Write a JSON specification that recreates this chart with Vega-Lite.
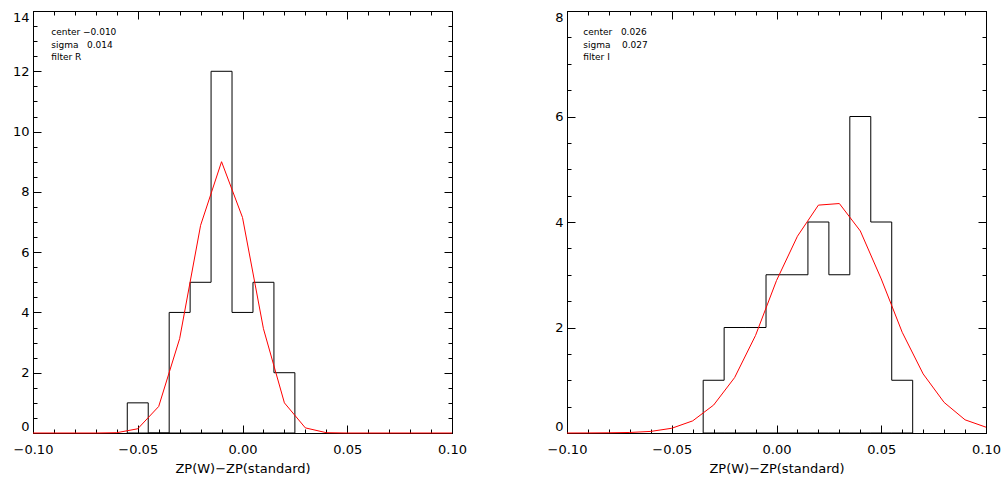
{
  "$schema": "https://vega.github.io/schema/vega-lite/v6.json",
  "background": "white",
  "padding": {"left": 11, "top": 10, "right": 5, "bottom": 5},
  "spacing": 115,
  "bounds": "flush",
  "datasets": {
    "histR": [
      {"edge": -0.055, "count": 1}, {"edge": -0.045, "count": 0}, {"edge": -0.035, "count": 4},
      {"edge": -0.025, "count": 5}, {"edge": -0.015, "count": 12}, {"edge": -0.005, "count": 4},
      {"edge": 0.005, "count": 5}, {"edge": 0.015, "count": 2}, {"edge": 0.025, "count": 0}
    ],
    "histI": [
      {"edge": -0.035, "count": 1}, {"edge": -0.025, "count": 2}, {"edge": -0.015, "count": 2},
      {"edge": -0.005, "count": 3}, {"edge": 0.005, "count": 3}, {"edge": 0.015, "count": 4},
      {"edge": 0.025, "count": 3}, {"edge": 0.035, "count": 6}, {"edge": 0.045, "count": 4},
      {"edge": 0.055, "count": 1}, {"edge": 0.065, "count": 0}
    ],
    "fitR": [
      {"x": -0.10, "y": 0}, {"x": -0.09, "y": 0}, {"x": -0.08, "y": 0}, {"x": -0.07, "y": 0},
      {"x": -0.06, "y": 0.01}, {"x": -0.05, "y": 0.14}, {"x": -0.04, "y": 0.88}, {"x": -0.03, "y": 3.13},
      {"x": -0.02, "y": 6.89}, {"x": -0.01, "y": 9.0}, {"x": 0.0, "y": 7.15}, {"x": 0.01, "y": 3.46},
      {"x": 0.02, "y": 1.0}, {"x": 0.03, "y": 0.17}, {"x": 0.04, "y": 0.01}, {"x": 0.05, "y": 0},
      {"x": 0.06, "y": 0}, {"x": 0.07, "y": 0}, {"x": 0.08, "y": 0}, {"x": 0.09, "y": 0}, {"x": 0.10, "y": 0}
    ],
    "fitI": [
      {"x": -0.10, "y": 0.0}, {"x": -0.09, "y": 0.001}, {"x": -0.08, "y": 0.004}, {"x": -0.07, "y": 0.01},
      {"x": -0.06, "y": 0.03}, {"x": -0.05, "y": 0.09}, {"x": -0.04, "y": 0.23}, {"x": -0.03, "y": 0.53},
      {"x": -0.02, "y": 1.05}, {"x": -0.01, "y": 1.85}, {"x": 0.0, "y": 2.89}, {"x": 0.01, "y": 3.73},
      {"x": 0.02, "y": 4.32}, {"x": 0.03, "y": 4.35}, {"x": 0.04, "y": 3.83}, {"x": 0.05, "y": 2.92},
      {"x": 0.06, "y": 1.91}, {"x": 0.07, "y": 1.12}, {"x": 0.08, "y": 0.58}, {"x": 0.09, "y": 0.25},
      {"x": 0.10, "y": 0.11}
    ]
  },
  "hconcat": [
    {
      "width": 419,
      "height": 422,
      "layer": [
        {
          "data": {"name": "histR"},
          "mark": {"type": "area", "interpolate": "step-after", "fillOpacity": 0, "stroke": "black", "strokeWidth": 1},
          "encoding": {
            "x": {"field": "edge", "type": "quantitative", "scale": {"domain": [-0.1, 0.1], "nice": false, "zero": false},
              "axis": {"orient": "bottom", "values": [-0.1, -0.09, -0.08, -0.07, -0.06, -0.05, -0.04, -0.03, -0.02, -0.01, 0, 0.01, 0.02, 0.03, 0.04, 0.05, 0.06, 0.07, 0.08, 0.09, 0.1],
                "tickSize": {"condition": {"test": "abs(datum.value*20-round(datum.value*20))<0.001", "value": -8}, "value": -4},
                "labelExpr": "abs(datum.value*20-round(datum.value*20))<0.001 ? format(datum.value, '.2f') : ''",
                "labelPadding": 18, "labelFlush": false, "labelOverlap": false, "labelBaseline": "top",
                "title": "ZP(W)−ZP(standard)", "titlePadding": 2}},
            "y": {"field": "count", "type": "quantitative", "stack": null, "scale": {"domain": [0, 14], "nice": false, "zero": false},
              "axis": {"orient": "left", "values": [0, 0.5, 1, 1.5, 2, 2.5, 3, 3.5, 4, 4.5, 5, 5.5, 6, 6.5, 7, 7.5, 8, 8.5, 9, 9.5, 10, 10.5, 11, 11.5, 12, 12.5, 13, 13.5, 14],
                "tickSize": {"condition": {"test": "datum.value % 2 == 0", "value": -8}, "value": -4},
                "labelExpr": "datum.value % 2 == 0 ? format(datum.value, 'd') : ''",
                "labelPadding": 12, "labelFlush": true, "labelOverlap": false, "title": null}}
          }
        },
        {
          "data": {"name": "fitR"},
          "mark": {"type": "line", "color": "#ff0000", "strokeWidth": 1},
          "encoding": {
            "x": {"field": "x", "type": "quantitative", "scale": {"domain": [-0.1, 0.1], "nice": false, "zero": false},
              "axis": {"orient": "top", "values": [-0.1, -0.09, -0.08, -0.07, -0.06, -0.05, -0.04, -0.03, -0.02, -0.01, 0, 0.01, 0.02, 0.03, 0.04, 0.05, 0.06, 0.07, 0.08, 0.09, 0.1],
                "tickSize": {"condition": {"test": "abs(datum.value*20-round(datum.value*20))<0.001", "value": -8}, "value": -4},
                "labels": false, "title": null}},
            "y": {"field": "y", "type": "quantitative", "scale": {"domain": [0, 14], "nice": false, "zero": false},
              "axis": {"orient": "right", "values": [0, 0.5, 1, 1.5, 2, 2.5, 3, 3.5, 4, 4.5, 5, 5.5, 6, 6.5, 7, 7.5, 8, 8.5, 9, 9.5, 10, 10.5, 11, 11.5, 12, 12.5, 13, 13.5, 14],
                "tickSize": {"condition": {"test": "datum.value % 2 == 0", "value": -8}, "value": -4},
                "labels": false, "title": null}}
          }
        },
        {
          "data": {"values": [{}]},
          "mark": {"type": "text", "text": ["center\u00a0−0.010", "sigma\u00a0\u00a0\u00a00.014", "filter\u00a0R"], "align": "left", "baseline": "alphabetic", "font": "DejaVu Sans", "fontSize": 9, "lineHeight": 12.2, "color": "black"},
          "encoding": {
            "x": {"datum": -0.0913, "type": "quantitative", "axis": null},
            "y": {"datum": 13.19, "type": "quantitative", "axis": null}
          }
        }
      ],
      "resolve": {"axis": {"x": "independent", "y": "independent"}}
    },
    {
      "width": 419,
      "height": 422,
      "layer": [
        {
          "data": {"name": "histI"},
          "mark": {"type": "area", "interpolate": "step-after", "fillOpacity": 0, "stroke": "black", "strokeWidth": 1},
          "encoding": {
            "x": {"field": "edge", "type": "quantitative", "scale": {"domain": [-0.1, 0.1], "nice": false, "zero": false},
              "axis": {"orient": "bottom", "values": [-0.1, -0.09, -0.08, -0.07, -0.06, -0.05, -0.04, -0.03, -0.02, -0.01, 0, 0.01, 0.02, 0.03, 0.04, 0.05, 0.06, 0.07, 0.08, 0.09, 0.1],
                "tickSize": {"condition": {"test": "abs(datum.value*20-round(datum.value*20))<0.001", "value": -8}, "value": -4},
                "labelExpr": "abs(datum.value*20-round(datum.value*20))<0.001 ? format(datum.value, '.2f') : ''",
                "labelPadding": 18, "labelFlush": false, "labelOverlap": false, "labelBaseline": "top",
                "title": "ZP(W)−ZP(standard)", "titlePadding": 2}},
            "y": {"field": "count", "type": "quantitative", "stack": null, "scale": {"domain": [0, 8], "nice": false, "zero": false},
              "axis": {"orient": "left", "values": [0, 0.5, 1, 1.5, 2, 2.5, 3, 3.5, 4, 4.5, 5, 5.5, 6, 6.5, 7, 7.5, 8],
                "tickSize": {"condition": {"test": "datum.value % 2 == 0", "value": -8}, "value": -4},
                "labelExpr": "datum.value % 2 == 0 ? format(datum.value, 'd') : ''",
                "labelPadding": 12, "labelFlush": true, "labelOverlap": false, "title": null}}
          }
        },
        {
          "data": {"name": "fitI"},
          "mark": {"type": "line", "color": "#ff0000", "strokeWidth": 1},
          "encoding": {
            "x": {"field": "x", "type": "quantitative", "scale": {"domain": [-0.1, 0.1], "nice": false, "zero": false},
              "axis": {"orient": "top", "values": [-0.1, -0.09, -0.08, -0.07, -0.06, -0.05, -0.04, -0.03, -0.02, -0.01, 0, 0.01, 0.02, 0.03, 0.04, 0.05, 0.06, 0.07, 0.08, 0.09, 0.1],
                "tickSize": {"condition": {"test": "abs(datum.value*20-round(datum.value*20))<0.001", "value": -8}, "value": -4},
                "labels": false, "title": null}},
            "y": {"field": "y", "type": "quantitative", "scale": {"domain": [0, 8], "nice": false, "zero": false},
              "axis": {"orient": "right", "values": [0, 0.5, 1, 1.5, 2, 2.5, 3, 3.5, 4, 4.5, 5, 5.5, 6, 6.5, 7, 7.5, 8],
                "tickSize": {"condition": {"test": "datum.value % 2 == 0", "value": -8}, "value": -4},
                "labels": false, "title": null}}
          }
        },
        {
          "data": {"values": [{}]},
          "mark": {"type": "text", "text": ["center\u00a0\u00a0\u00a00.026", "sigma\u00a0\u00a0\u00a0\u00a00.027", "filter\u00a0I"], "align": "left", "baseline": "alphabetic", "font": "DejaVu Sans", "fontSize": 9, "lineHeight": 12.2, "color": "black"},
          "encoding": {
            "x": {"datum": -0.0922, "type": "quantitative", "axis": null},
            "y": {"datum": 7.539, "type": "quantitative", "axis": null}
          }
        }
      ],
      "resolve": {"axis": {"x": "independent", "y": "independent"}}
    }
  ],
  "config": {
    "font": "DejaVu Sans",
    "view": {"stroke": "black", "strokeWidth": 1},
    "axis": {
      "grid": false,
      "domainColor": "black",
      "domainWidth": 1,
      "tickColor": "black",
      "tickWidth": 1,
      "labelColor": "black",
      "titleColor": "black",
      "labelFont": "DejaVu Sans",
      "titleFont": "DejaVu Sans",
      "labelFontSize": 13,
      "titleFontSize": 13,
      "titleFontWeight": "normal"
    }
  }
}
